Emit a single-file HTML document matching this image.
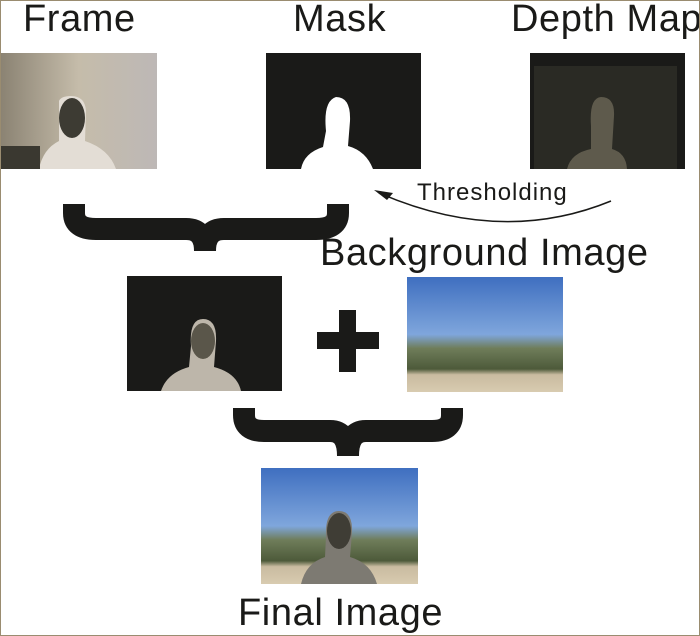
<!DOCTYPE html>
<html><head><meta charset="utf-8"><style>
body{margin:0;background:#fff}
#c{position:relative;width:698px;height:634px;border:1px solid #9a8c70;overflow:hidden;font-family:"Liberation Sans",sans-serif;color:#1a1a18}
.t{position:absolute;font-size:38px;line-height:1;white-space:nowrap;letter-spacing:0.6px}
</style></head><body><div id="c">
<div class="t" style="left:22px;top:-1px">Frame</div>
<div class="t" style="left:292px;top:-1px">Mask</div>
<div class="t" style="left:510px;top:-1px">Depth Map</div>
<div class="t" style="left:319px;top:233px">Background Image</div>
<div class="t" style="left:237px;top:593px">Final Image</div>
<div class="t" style="left:416px;top:180px;font-size:24px;letter-spacing:1px">Thresholding</div>
<svg width="698" height="634" style="position:absolute;left:0;top:0">
<defs>
<linearGradient id="sky" x1="0" y1="0" x2="0" y2="1"><stop offset="0" stop-color="#3f6fc0"/><stop offset="0.5" stop-color="#7fa6dc"/><stop offset="0.62" stop-color="#6f7d5a"/><stop offset="0.8" stop-color="#4d5a3a"/><stop offset="0.85" stop-color="#c9bba0"/><stop offset="1" stop-color="#d8cbb0"/></linearGradient>
<linearGradient id="room" x1="0" y1="0" x2="1" y2="0"><stop offset="0" stop-color="#8a8272"/><stop offset="0.5" stop-color="#c5bcaa"/><stop offset="1" stop-color="#bdb8b6"/></linearGradient>
</defs>
<rect x="-1" y="52" width="157" height="116" fill="url(#room)"/>
<path d="M38,168 Q42,148 58,140 L58,100 Q60,95 70,95 Q84,95 85,110 L84,140 Q108,148 115,168Z" fill="#e3ddd5"/>
<ellipse cx="71" cy="117" rx="13" ry="20" fill="#3d3b33"/>
<rect x="-1" y="145" width="40" height="23" fill="#3a3830"/>
<rect x="265" y="52" width="155" height="116" fill="#1a1a18"/>
<path d="M300,168 Q303,152 322,146 L325,130 Q322,100 335,96 Q350,96 349,120 L347,145 Q365,150 372,168Z" fill="#fff"/>
<rect x="529" y="52" width="155" height="116" fill="#1a1a18"/>
<rect x="533" y="65" width="143" height="103" fill="#2a2a24"/>
<path d="M566,168 Q570,152 590,148 L590,125 Q588,97 600,96 Q614,96 613,115 L611,148 Q625,152 626,168Z" fill="#5e5a4c"/>
<path d="M73,203 V212 Q73,228 95,228 H185 Q204,228 204,250 Q204,228 223,228 H315 Q337,228 337,212 V203" fill="none" stroke="#1a1a18" stroke-width="22"/>
<path d="M610,200 Q500,245 378,192" fill="none" stroke="#1a1a18" stroke-width="1.5"/>
<path d="M373,189 L392,192 L386,199Z" fill="#1a1a18"/>
<rect x="126" y="275" width="155" height="115" fill="#1a1a18"/>
<path d="M160,390 Q166,372 188,366 L190,345 Q188,318 202,318 Q216,318 215,340 L213,366 Q236,372 240,390Z" fill="#bdb6aa"/>
<ellipse cx="202" cy="340" rx="12" ry="18" fill="#5a564a"/>
<rect x="316" y="331" width="62" height="17" fill="#1a1a18"/>
<rect x="338" y="309" width="17" height="62" fill="#1a1a18"/>
<rect x="406" y="276" width="156" height="115" fill="url(#sky)"/>
<path d="M243,407 V414 Q243,430 263,430 H329 Q347,430 347,455 Q347,430 365,430 H431 Q451,430 451,414 V407" fill="none" stroke="#1a1a18" stroke-width="22"/>
<rect x="260" y="467" width="157" height="116" fill="url(#sky)"/>
<path d="M300,583 Q305,562 324,556 L325,535 Q324,510 338,510 Q352,510 351,532 L349,556 Q370,562 376,583Z" fill="#7d7a72"/>
<ellipse cx="338" cy="530" rx="12" ry="18" fill="#3f3d35"/>
</svg>
</div></body></html>
